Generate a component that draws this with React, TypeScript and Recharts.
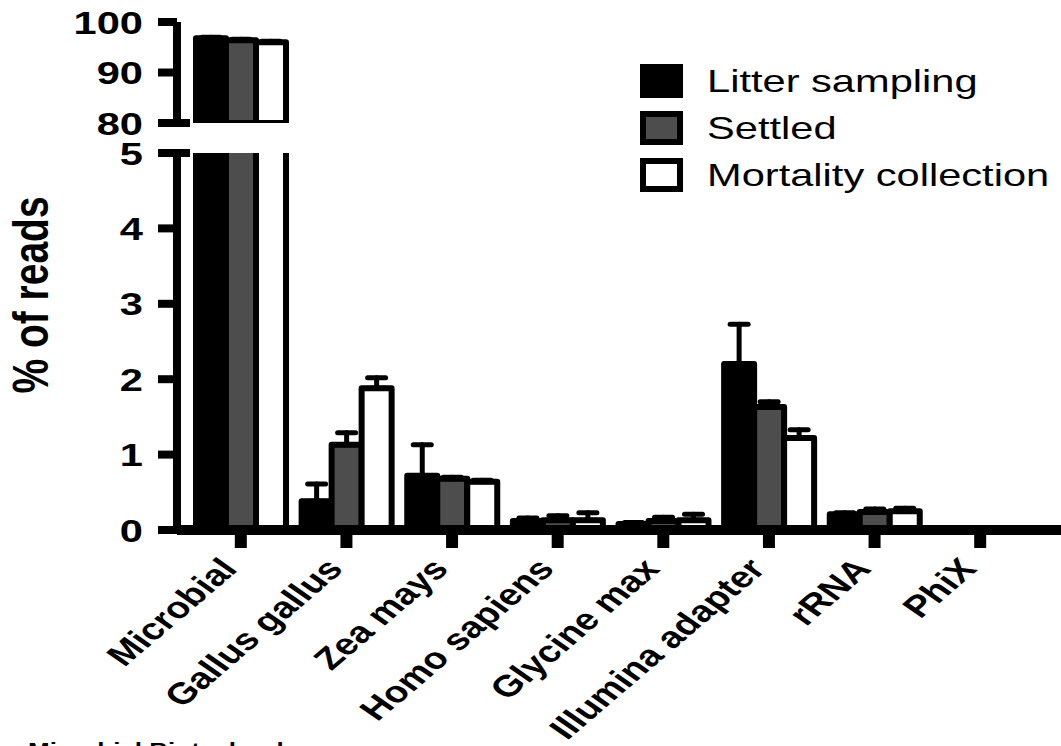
import { BarChart, Bar, XAxis, YAxis, ErrorBar, Legend } from 'recharts'

const categories = ['Microbial', 'Gallus gallus', 'Zea mays', 'Homo sapiens', 'Glycine max', 'Illumina adapter', 'rRNA', 'PhiX']
const seriesNames = ['Litter sampling', 'Settled', 'Mortality collection']
const litterSampling = [96.8, 0.38, 0.72, 0.12, 0.08, 2.2, 0.21, 0]
const litterErr = [0.2, 0.23, 0.41, 0.04, 0.02, 0.53, 0.02, 0]
const settled = [96.4, 1.13, 0.68, 0.13, 0.12, 1.63, 0.24, 0]
const settledErr = [0.2, 0.16, 0.02, 0.06, 0.05, 0.07, 0.04, 0]
const mortality = [96.0, 1.88, 0.64, 0.13, 0.13, 1.22, 0.25, 0]
const mortalityErr = [0.2, 0.14, 0.02, 0.1, 0.08, 0.11, 0.04, 0]
const upperTicks = [80, 90, 100]
const lowerTicks = [0, 1, 2, 3, 4, 5]

const FONT = '"Liberation Sans", Arial, Helvetica, sans-serif'
const STRETCH = 1.3
const Y_TICK_SIZE = 19
const Y_TICK_MARGIN = 15
const UPPER_TOP = 22
const UPPER_BOTTOM = 123
const LOWER_TOP = 153

const lowerData = categories.map((name, i) => ({
  name,
  litter: litterSampling[i],
  litterErr: [0, litterErr[i]],
  settled: settled[i],
  settledErr: [0, settledErr[i]],
  mortality: mortality[i],
  mortalityErr: [0, mortalityErr[i]],
}))

// upper panel only shows what reaches the 80-100 range
const upperData = categories.map((name, i) => ({
  name,
  litter: litterSampling[i] >= 80 ? litterSampling[i] : null,
  litterErr: litterSampling[i] >= 80 ? [0, litterErr[i]] : undefined,
  settled: settled[i] >= 80 ? settled[i] : null,
  settledErr: settled[i] >= 80 ? [0, settledErr[i]] : undefined,
  mortality: mortality[i] >= 80 ? mortality[i] : null,
  mortalityErr: mortality[i] >= 80 ? [0, mortalityErr[i]] : undefined,
}))

function YTick(props: any) {
  const { x, y, payload, breakValue } = props
  const axisX = x + Y_TICK_SIZE + Y_TICK_MARGIN
  return (
    <g>
      {payload.value === breakValue && (
        <line x1={axisX} x2={axisX + 13} y1={y} y2={y} stroke="#000" strokeWidth={8} />
      )}
      <text
        transform={`translate(${x},${y}) scale(${STRETCH},1)`}
        textAnchor="end"
        dy="0.36em"
        fontSize={32}
        fontWeight="bold"
        fontFamily={FONT}
        fill="#000"
      >
        {payload.value}
      </text>
    </g>
  )
}

function XTick(props: any) {
  const { x, y, payload } = props
  return (
    <text
      transform={`translate(${x - 2},${y + 18}) scale(${STRETCH},1) rotate(-48)`}
      textAnchor="end"
      fontSize={30}
      fontWeight="bold"
      fontFamily={FONT}
      fill="#000"
    >
      {payload.value}
    </text>
  )
}

// bar cut at the axis break: no stroke on the side that runs into the break
function BrokenBar(props: any) {
  const { x, y, width, height, fill, clipTop, clipBottom } = props
  if (x == null || y == null || !height || isNaN(y)) return null
  let y0 = Math.min(y, y + height)
  let y1 = Math.max(y, y + height)
  const cutTop = clipTop != null && y0 < clipTop
  const cutBottom = clipBottom != null && y1 > clipBottom
  if (cutTop) y0 = clipTop
  if (cutBottom) y1 = clipBottom
  if (y1 <= y0) return null
  let d = `M${x},${y1} L${x},${y0} `
  d += cutTop ? `M${x + width},${y0} ` : `L${x + width},${y0} `
  d += `L${x + width},${y1}`
  if (!cutBottom) d += ` L${x},${y1}`
  return (
    <g>
      <rect x={x} y={y0} width={width} height={y1 - y0} fill={fill} />
      <path d={d} fill="none" stroke="#000" strokeWidth={6} strokeLinejoin="round" />
    </g>
  )
}

function LegendContent(props: any) {
  const payload = [...(props.payload ?? [])].sort(
    (a: any, b: any) => seriesNames.indexOf(a.value) - seriesNames.indexOf(b.value),
  )
  return (
    <div style={{ fontFamily: FONT }}>
      {payload.map((entry: any) => (
        <div key={entry.value} style={{ display: 'flex', alignItems: 'center', height: 47 }}>
          <span
            style={{
              width: 43,
              height: 34,
              boxSizing: 'border-box',
              background: entry.color,
              border: '6px solid #000',
              flex: 'none',
            }}
          />
          <span
            style={{
              marginLeft: 24,
              fontSize: 32,
              lineHeight: '34px',
              whiteSpace: 'nowrap',
              transform: `scaleX(${STRETCH})`,
              transformOrigin: 'left center',
              color: '#000',
            }}
          >
            {entry.value}
          </span>
        </div>
      ))}
    </div>
  )
}

function Bars(upper: boolean) {
  const shape = (p: any) => (
    <BrokenBar
      {...p}
      clipTop={upper ? UPPER_TOP - 30 : LOWER_TOP}
      clipBottom={upper ? UPPER_BOTTOM : undefined}
    />
  )
  return [
    <Bar key="l" dataKey="litter" name={seriesNames[0]} fill="#000" stroke="#000" barSize={30} shape={shape} isAnimationActive={false}>
      <ErrorBar dataKey="litterErr" width={9} stroke="#000" strokeWidth={5} strokeLinecap="round" />
    </Bar>,
    <Bar key="s" dataKey="settled" name={seriesNames[1]} fill="#4d4d4d" stroke="#000" barSize={30} shape={shape} isAnimationActive={false}>
      <ErrorBar dataKey="settledErr" width={9} stroke="#000" strokeWidth={5} strokeLinecap="round" />
    </Bar>,
    <Bar key="m" dataKey="mortality" name={seriesNames[2]} fill="#fff" stroke="#000" barSize={30} shape={shape} isAnimationActive={false}>
      <ErrorBar dataKey="mortalityErr" width={9} stroke="#000" strokeWidth={5} strokeLinecap="round" />
    </Bar>,
  ]
}

export default function App() {
  const xPadding = { left: 11, right: 28 }
  return (
    <div style={{ position: 'absolute', left: 0, top: 0, width: 1061, height: 746, overflow: 'hidden', background: '#fff' }}>
      <div style={{ position: 'absolute', left: 0, top: 0 }}>
        <BarChart width={1061} height={160} data={upperData} margin={{ top: UPPER_TOP, right: 0, bottom: 160 - UPPER_BOTTOM, left: 0 }} barGap={0}>
          <XAxis dataKey="name" hide padding={xPadding} />
          <YAxis
            width={177}
            domain={[80, 100]}
            ticks={upperTicks}
            interval={0}
            allowDataOverflow
            axisLine={{ stroke: '#000', strokeWidth: 8 }}
            tickLine={{ stroke: '#000', strokeWidth: 8 }}
            tickSize={Y_TICK_SIZE}
            tickMargin={Y_TICK_MARGIN}
            tick={<YTick breakValue={80} />}
          />
          {Bars(true)}
        </BarChart>
      </div>
      <div style={{ position: 'absolute', left: 0, top: 0 }}>
        <BarChart width={1061} height={746} data={lowerData} margin={{ top: LOWER_TOP, right: 0, bottom: 0, left: 0 }} barGap={0}>
          <XAxis
            dataKey="name"
            height={216}
            padding={xPadding}
            interval={0}
            axisLine={{ stroke: '#000', strokeWidth: 10 }}
            tickLine={{ stroke: '#000', strokeWidth: 12 }}
            tickSize={18}
            tickMargin={4}
            tick={<XTick />}
          />
          <YAxis
            width={177}
            domain={[0, 5]}
            ticks={lowerTicks}
            interval={0}
            allowDataOverflow
            axisLine={{ stroke: '#000', strokeWidth: 8 }}
            tickLine={{ stroke: '#000', strokeWidth: 8 }}
            tickSize={Y_TICK_SIZE}
            tickMargin={Y_TICK_MARGIN}
            tick={<YTick breakValue={5} />}
          />
          {Bars(false)}
          <Legend
            layout="vertical"
            align="center"
            verticalAlign="middle"
            content={<LegendContent />}
            wrapperStyle={{ top: 57, left: 640, width: 'auto', height: 'auto' }}
          />
        </BarChart>
      </div>
      {/* white band of the axis break, over both panels, left of the legend */}
      <div
        style={{
          position: 'absolute',
          left: 181,
          top: UPPER_BOTTOM + 5,
          width: 600 - 181,
          height: LOWER_TOP - UPPER_BOTTOM - 10,
          background: '#fff',
        }}
      />
      <svg width={1061} height={746} style={{ position: 'absolute', left: 0, top: 0, pointerEvents: 'none' }}>
        <text
          transform={`translate(31,295) scale(${STRETCH},1) rotate(-90)`}
          textAnchor="middle"
          dominantBaseline="central"
          fontSize={39}
          fontWeight="bold"
          fontFamily={FONT}
          fill="#000"
        >
          % of reads
        </text>
        <text
          transform={`translate(28,757) scale(${STRETCH},1)`}
          fontSize={20}
          fontWeight="bold"
          fontFamily={FONT}
          fill="#000"
        >
          Microbial Biotechnology
        </text>
      </svg>
    </div>
  )
}
